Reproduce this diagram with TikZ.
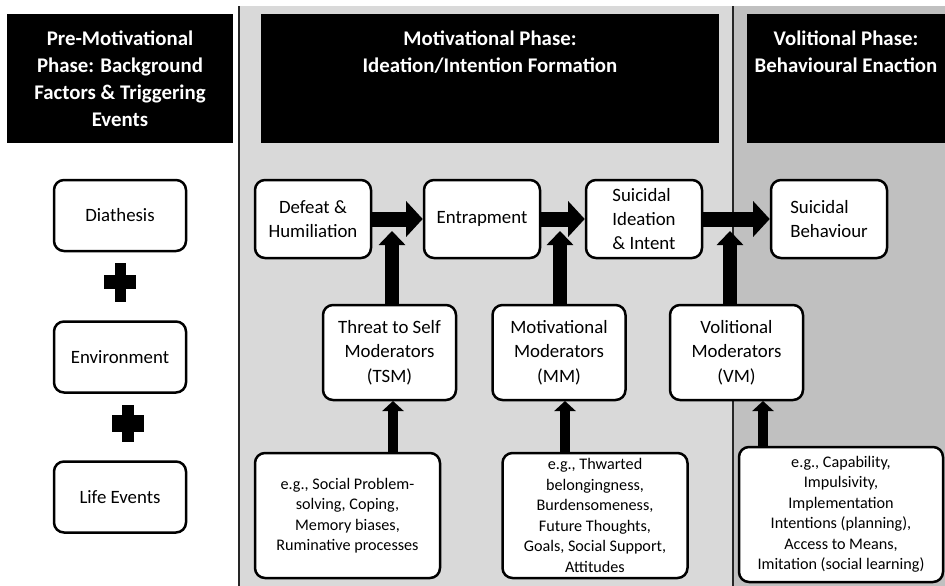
\documentclass[tikz,border=0pt]{standalone}
\usepackage{fontspec}
\setmainfont{Carlito}
\usepackage{tikz}
\usetikzlibrary{shapes,arrows.meta}
\definecolor{midgray}{RGB}{217,217,217}
\definecolor{rightgray}{RGB}{192,192,192}
\tikzstyle{phase} = [rectangle, fill=black, text=white, minimum height=77.4pt, inner sep=0pt, align=center, font=\fontsize{12.5}{16.2}\selectfont\bfseries]
\tikzstyle{factor} = [rectangle, rounded corners=6pt, minimum width=79.2pt, minimum height=42.6pt, draw=black, line width=1.5pt, fill=white, align=center, font=\fontsize{11.3}{14.4}\selectfont]
\tikzstyle{stage} = [rectangle, rounded corners=6pt, minimum width=69.6pt, minimum height=46.8pt, draw=black, line width=1.5pt, fill=white, align=center, font=\fontsize{11.3}{14.4}\selectfont]
\tikzstyle{moderator} = [rectangle, rounded corners=6pt, minimum width=79.8pt, minimum height=57pt, draw=black, line width=1.5pt, fill=white, align=center, font=\fontsize{11.3}{14.6}\selectfont]
\tikzstyle{example} = [rectangle, rounded corners=6pt, minimum width=111pt, minimum height=75pt, draw=black, line width=1.5pt, fill=white, align=center, inner sep=1pt, font=\fontsize{9.7}{12.3}\selectfont]
\tikzstyle{arrow} = [line width=9pt, -{Triangle[width=21pt,length=10pt]}]
\tikzstyle{uparrow} = [line width=8.4pt, -{Triangle[width=15.6pt,length=8.4pt]}]
\tikzstyle{smallarrow} = [line width=6pt, -{Triangle[width=12.6pt,length=6pt]}]

\begin{document}
\begin{tikzpicture}[x=0.6pt, y=-0.6pt]
        \useasboundingbox (0,0) rectangle (945,586);
        % panels
        \fill [midgray] (240,6) rectangle (733,586);
        \fill [rightgray] (733,6) rectangle (945,586);
        \draw [line width=1.5pt, black!85] (239,6) -- (239,586);
        \draw [line width=1.1pt, black!85] (733,6) -- (733,586);
        % phase headers
        \node (pre) [phase, minimum width=135.6pt] at (120,78.5) {Pre-Motivational\\Phase: Background\\Factors \& Triggering\\Events};
        \node (mot) [phase, minimum width=274.8pt] at (490,78.5) {Motivational Phase:\\Ideation/Intention Formation\\~\\~};
        \node (vol) [phase, minimum width=118.8pt] at (846,78.5) {Volitional Phase:\\Behavioural Enaction\\~\\~};
        % background factors
        \node (diath) [factor] at (120,215.5) {Diathesis};
        \node (env) [factor] at (120,357) {Environment};
        \node (life) [factor] at (120,497) {Life Events};
        \fill (104,275) rectangle (136,289);
        \fill (115,263) rectangle (126,302);
        \fill (112,415) rectangle (144,432);
        \fill (122,405) rectangle (134,442);
        % main pathway
        \node (defeat) [stage] at (313,219) {Defeat \&\\Humiliation};
        \node (entrap) [stage] at (482,219) {Entrapment};
        \node (ideation) [stage, align=left] at (644,219) {Suicidal\\Ideation\\\& Intent};
        \node (behav) [stage, align=left] at (829,219) {Suicidal\\Behaviour};
        % moderators
        \node (tsm) [moderator] at (389.5,352.5) {Threat to Self\\Moderators\\(TSM)};
        \node (mm) [moderator] at (559,352.5) {Motivational\\Moderators\\(MM)};
        \node (vm) [moderator] at (736.5,352.5) {Volitional\\Moderators\\(VM)};
        \node (tsmex) [example] at (347.5,515.5) {e.g., Social Problem-\\solving, Coping,\\Memory biases,\\Ruminative processes};
        \node (mmex) [example] at (595,515.5) {e.g., Thwarted\\belongingness,\\Burdensomeness,\\Future Thoughts,\\Goals, Social Support,\\Attitudes};
        \node (vmex) [example, minimum width=122.4pt, minimum height=81pt] at (841,514.5) {e.g., Capability,\\Impulsivity,\\Implementation\\Intentions (planning),\\Access to Means,\\Imitation (social learning)};
        \coordinate (j1) at (392,231);
        \coordinate (j2) at (560,231);
        \coordinate (j3) at (730,231);
        \coordinate (k1) at (393,401);
        \coordinate (k2) at (565,401);
        \coordinate (k3) at (763,401);
        \draw [arrow] (defeat) -- (entrap);
        \draw [arrow] (entrap) -- (ideation);
        \draw [arrow] (ideation) -- (behav);
        \draw [uparrow] (tsm.north -| j1) -- (j1);
        \draw [uparrow] (mm.north -| j2) -- (j2);
        \draw [uparrow] (vm.north -| j3) -- (j3);
        \draw [smallarrow] (tsmex.north -| k1) -- (k1);
        \draw [smallarrow] (mmex.north -| k2) -- (k2);
        \draw [smallarrow] (vmex.north -| k3) -- (k3);
        \end{tikzpicture}
\end{document}
